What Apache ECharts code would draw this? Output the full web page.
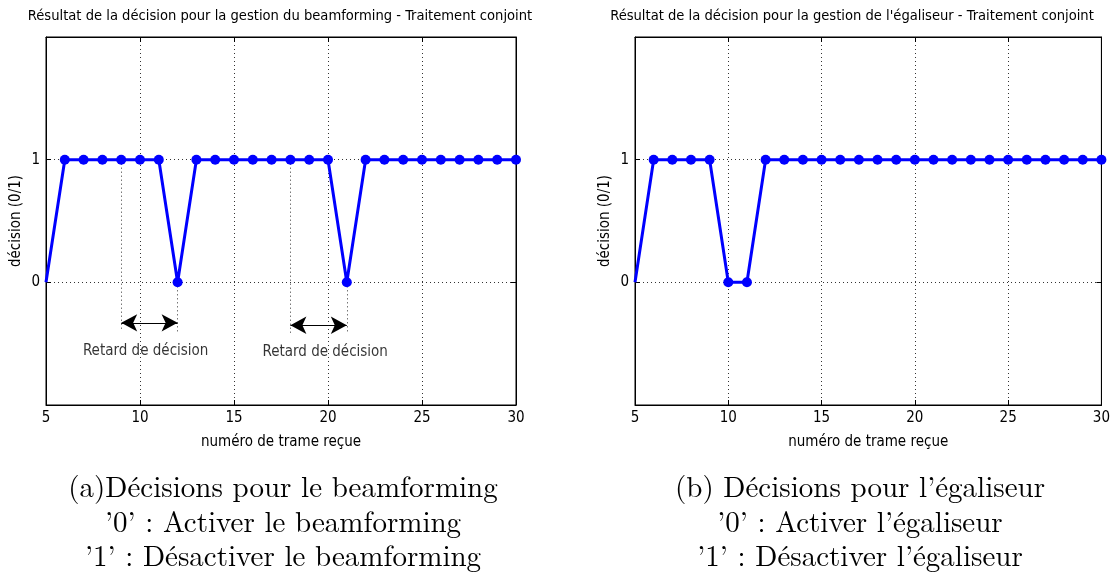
<!DOCTYPE html>
<html>
<head>
<meta charset="utf-8">
<script src="https://cdn.jsdelivr.net/npm/echarts@6/dist/echarts.min.js"></script>
<style>
html,body{margin:0;padding:0;background:#fff;}
#c{width:1113px;height:580px;}
</style>
</head>
<body>
<div id="c"></div>
<script>
// ---- data ----
const frames = [5,6,7,8,9,10,11,12,13,14,15,16,17,18,19,20,21,22,23,24,25,26,27,28,29,30];
const beamforming = [0,1,1,1,1,1,1,0,1,1,1,1,1,1,1,1,0,1,1,1,1,1,1,1,1,1];
const egaliseur   = [0,1,1,1,1,0,0,1,1,1,1,1,1,1,1,1,1,1,1,1,1,1,1,1,1,1];
const xTicks = [5,10,15,20,25,30];
const yTicks = [0,1];
// delay annotations: [start frame, end frame, arrow level]
const delays = [[9,12,-0.33],[18,21,-0.35]];
// label anchors (frame, level) for the delay texts
const delayLabelPos = [[10.3,-0.56],[19.85,-0.57]];
const delayLabel = 'Retard de décision';
const titles = ['Résultat de la décision pour la gestion du beamforming - Traitement conjoint',
                'Résultat de la décision pour la gestion de l\'égaliseur - Traitement conjoint'];
const captions = [
  ['(a)Décisions pour le beamforming', '’0’ : Activer le beamforming', '’1’ : Désactiver le beamforming'],
  ['(b) Décisions pour l’égaliseur', '’0’ : Activer l’égaliseur', '’1’ : Désactiver l’égaliseur']
];
const yName = 'décision (0/1)';
const xName = 'numéro de trame reçue';

// ---- chart ----
const FONT = "'Liberation Sans Narrow','DejaVu Sans Condensed','Liberation Sans',sans-serif";
const SERIF = "'Latin Modern Roman','Liberation Serif','DejaVu Serif',serif";
const FS = 15;
const chart = echarts.init(document.getElementById('c'), null, {renderer:'canvas'});
const dotted = {type:[1,3], color:'#333', width:1};

const grids = [
  {left:46, top:37, width:470, height:368},
  {left:635, top:37, width:471, height:368}
];

const xAxes = [], yAxes = [];
grids.forEach((g,i)=>{
  xAxes.push({
    gridIndex:i, type:'value', min:5, max:30, interval:5, position:'bottom',
    name:xName, nameLocation:'middle', nameGap:30,
    nameTextStyle:{fontFamily:FONT, fontSize:FS, color:'#000'},
    axisLine:{show:true, onZero:false, lineStyle:{color:'#000', width:1}},
    axisTick:{show:true, inside:true, length:5, lineStyle:{color:'#000'}},
    axisLabel:{fontFamily:FONT, fontSize:FS, color:'#000', margin:6,
      formatter:v=> xTicks.includes(v) ? String(v) : ''},
    splitLine:{show:true, lineStyle:dotted}
  });
  xAxes.push({
    gridIndex:i, type:'value', min:5, max:30, interval:5, position:'top',
    axisLine:{show:true, onZero:false, lineStyle:{color:'#000', width:1}},
    axisTick:{show:true, inside:true, length:5, lineStyle:{color:'#000'}},
    axisLabel:{show:false}, splitLine:{show:false}
  });
  yAxes.push({
    gridIndex:i, type:'value', min:-1, max:2, interval:1, position:'left',
    name:yName, nameLocation:'middle', nameGap:22,
    nameTextStyle:{fontFamily:FONT, fontSize:FS, color:'#000'},
    axisLine:{show:true, onZero:false, lineStyle:{color:'#000', width:1}},
    axisTick:{show:true, inside:true, length:5, lineStyle:{color:'#000'}},
    axisLabel:{fontFamily:FONT, fontSize:FS, color:'#000', margin:6,
      formatter:v=> yTicks.includes(v) ? String(v) : ''},
    splitLine:{show:true, lineStyle:dotted}
  });
  yAxes.push({
    gridIndex:i, type:'value', min:-1, max:2, interval:1, position:'right',
    axisLine:{show:true, onZero:false, lineStyle:{color:'#000', width:1}},
    axisTick:{show:true, inside:true, length:5, lineStyle:{color:'#000'}},
    axisLabel:{show:false}, splitLine:{show:false}
  });
});

function pts(vals){
  return frames.map((f,k)=> k===0 ? {value:[f,vals[k]], symbol:'none'} : [f,vals[k]]);
}

const lineSeries = (vals, i) => ({
  type:'line', xAxisIndex:i*2, yAxisIndex:i*2, data:pts(vals),
  symbol:'circle', symbolSize:10, showSymbol:true,
  lineStyle:{color:'#0000ff', width:3}, itemStyle:{color:'#0000ff'},
  animation:false, clip:false, z:5
});

// annotation markLines
const mlData = [];
const byIdx = {};
frames.forEach((f,k)=> byIdx[f]=beamforming[k]);
delays.forEach(([a,b,yl])=>{
  mlData.push([{coord:[a,byIdx[a]]},{coord:[a,yl-0.07]}]);
  mlData.push([{coord:[b,byIdx[b]]},{coord:[b,yl-0.07]}]);
});
const arrowData = delays.map(([a,b,yl])=>[{coord:[a,yl]},{coord:[b,yl]}]);

const s1 = lineSeries(beamforming,0);
s1.markLine = {
  silent:true, animation:false, symbol:['none','none'], label:{show:false},
  lineStyle:{type:[1,3], color:'#333', width:1},
  data:mlData
};

const arrowSeries = {
  type:'line', xAxisIndex:0, yAxisIndex:0, data:[], animation:false,
  markLine:{
    silent:true, animation:false, symbol:['arrow','arrow'], symbolSize:[13,16], label:{show:false},
    lineStyle:{type:'solid', color:'#000', width:1.2},
    data:arrowData
  }
};

const textSeries = {
  type:'scatter', xAxisIndex:0, yAxisIndex:0, symbolSize:0, animation:false, silent:true,
  data: delayLabelPos,
  label:{show:true, position:'inside', formatter:delayLabel, fontFamily:FONT, fontSize:FS, color:'#000'}
};

const graphics = [];
const titleX = [280, 852];
titles.forEach((t,i)=>graphics.push({type:'text', x:titleX[i], y:16,
  style:{text:t, fontFamily:FONT, fontSize:14.6, fill:'#000', textAlign:'center', textVerticalAlign:'middle'}}));
const capX = [283, 860];
const capY = [488, 523, 557];
captions.forEach((lines,i)=>lines.forEach((l,j)=>graphics.push({type:'text', x:capX[i], y:capY[j],
  style:{text:l, fontFamily:SERIF, fontSize:29, fill:'#000', textAlign:'center', textVerticalAlign:'middle'}})));

chart.setOption({
  animation:false,
  backgroundColor:'#fff',
  grid: grids.map(g=>Object.assign({show:true, borderColor:'#000', borderWidth:1, backgroundColor:'#fff'}, g)),
  xAxis:xAxes, yAxis:yAxes,
  series:[s1, lineSeries(egaliseur,1), arrowSeries, textSeries],
  graphic:graphics
});
</script>
</body>
</html>
